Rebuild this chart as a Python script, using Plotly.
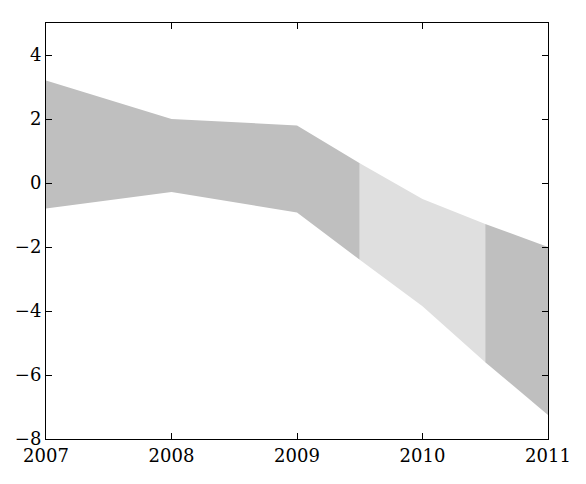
import plotly.graph_objects as go

years = [2007, 2008, 2009, 2009.5, 2010, 2010.5, 2011]
upper = [3.2, 2.0, 1.8, 0.62, -0.5, -1.28, -2.0]
lower = [-0.8, -0.28, -0.92, -2.4, -3.85, -5.6, -7.25]

# segments (index ranges) and their fill colours
segments = [(0, 3, "#bfbfbf"), (3, 5, "#dfdfdf"), (5, 6, "#bfbfbf")]

fig = go.Figure()
for a, b, col in segments:
    xs = years[a:b + 1] + years[a:b + 1][::-1]
    ys = upper[a:b + 1] + lower[a:b + 1][::-1]
    fig.add_trace(go.Scatter(x=xs, y=ys, fill="toself", fillcolor=col,
                             mode="lines", line=dict(width=0, color=col),
                             showlegend=False, hoverinfo="skip"))

axis = dict(showgrid=False, zeroline=False, showline=True, linecolor="black",
            linewidth=1, mirror="ticks", ticks="inside", ticklen=6,
            tickcolor="black", automargin=False)
fig.update_xaxes(range=[2007, 2011], tickvals=[2007, 2008, 2009, 2010, 2011], **axis)
fig.update_yaxes(range=[-8, 5], tickvals=[-8, -6, -4, -2, 0, 2, 4], **axis)
fig.update_layout(width=586, height=484, plot_bgcolor="white", paper_bgcolor="white",
                  margin=dict(l=38, r=46, t=15, b=53),
                  font=dict(family="DejaVu Serif", size=18, color="black"))
fig.write_html("out.html")
